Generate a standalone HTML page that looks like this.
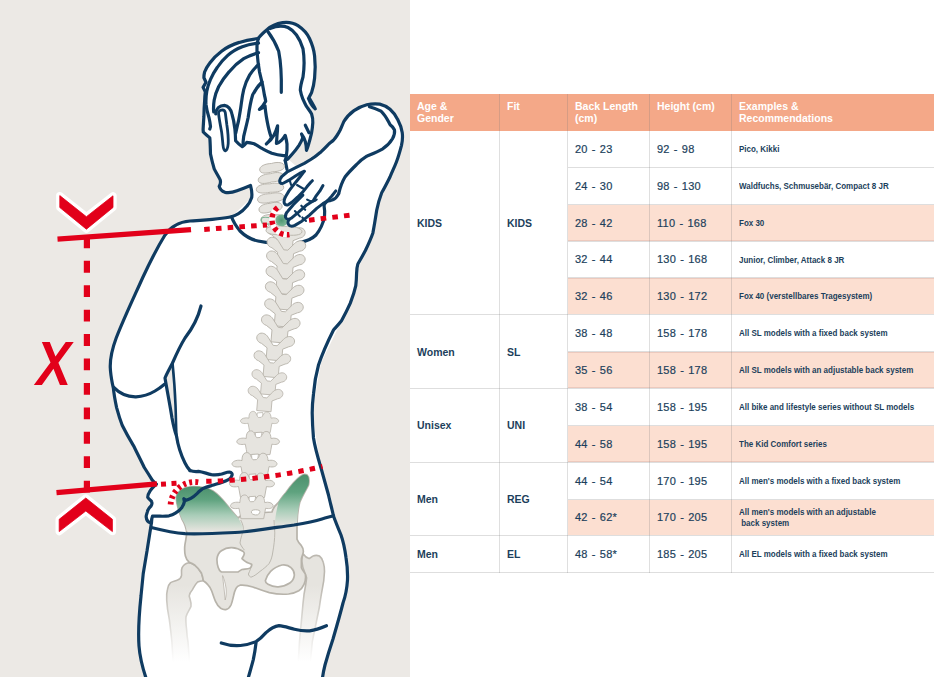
<!DOCTYPE html>
<html><head><meta charset="utf-8"><title>Back length size chart</title>
<style>
html,body{margin:0;padding:0;background:#fff;}
body{width:936px;height:677px;position:relative;overflow:hidden;font-family:"Liberation Sans",sans-serif;}
.panel{position:absolute;left:0;top:0;width:410px;height:677px;background:#ece9e5;}
svg.fig{position:absolute;left:0;top:0;}
.tbl div{position:absolute;box-sizing:border-box;}
.hd{background:#f4a888;}
.ht{color:#fff;font-weight:bold;font-size:10.5px;line-height:12px;white-space:nowrap;}
.hl{background:#fcdfd1;box-shadow:inset 0 1px 0 #ecc9bd, inset 0 -1px 0 #ecc9bd;}
.c,.g,.e{display:flex;align-items:center;color:#1c3f5c;white-space:nowrap;}
.c{font-size:11px;letter-spacing:0.25px;word-spacing:0.8px;-webkit-text-stroke:0.2px #1c3f5c;}
.g{font-size:10.5px;font-weight:bold;}
.e{font-size:8.9px;font-weight:bold;line-height:11.1px;padding-top:1.2px;}
.e span{display:inline-block;transform:scaleX(0.9);transform-origin:0 50%;}
.hlne{height:1px;background:#dedede;}
.vl{width:1px;background:rgba(120,120,120,0.24);}
</style></head><body>
<div class="panel"></div>
<svg class="fig" width="936" height="677" viewBox="0 0 936 677">
<defs>
<linearGradient id="gIl" gradientUnits="userSpaceOnUse" x1="0" y1="486" x2="0" y2="531"><stop offset="0" stop-color="#4b8f6c"/><stop offset="0.3" stop-color="#5fa37f"/><stop offset="0.65" stop-color="#a9cdb8"/><stop offset="1" stop-color="#e6e4df"/></linearGradient>
<linearGradient id="gIr" gradientUnits="userSpaceOnUse" x1="0" y1="474" x2="0" y2="526"><stop offset="0" stop-color="#4b8f6c"/><stop offset="0.35" stop-color="#5fa37f"/><stop offset="0.7" stop-color="#a9cdb8"/><stop offset="1" stop-color="#e6e4df"/></linearGradient>
<linearGradient id="gFem" gradientUnits="userSpaceOnUse" x1="0" y1="585" x2="0" y2="662"><stop offset="0" stop-color="#e6e4df"/><stop offset="1" stop-color="#ffffff"/></linearGradient>
<linearGradient id="gFemS" gradientUnits="userSpaceOnUse" x1="0" y1="585" x2="0" y2="662"><stop offset="0" stop-color="#bcb8b0"/><stop offset="1" stop-color="#ffffff"/></linearGradient>
<radialGradient id="gC7"><stop offset="0" stop-color="#4f9672"/><stop offset="1" stop-color="#7db897"/></radialGradient>
<path id="vt" d="M-18,-8 C-21,-5 -19,0 -14,1 L-8,5 L-8,17 L8,17 L8,5 L14,2 C19,1 21,-4 18,-7 C15,-10 10,-8 8,-5 L2,2 L-2,2 L-8,-6 C-10,-9 -15,-11 -18,-8 Z"/>
<path id="vl" d="M-4,-1 C-5,-5 -8,-6 -11,-4 C-13,-2 -13,1 -13,3 C-17,2 -22,3 -23,6 C-23,9 -19,10 -14,9 C-13,13 -13,16 -12,20 L12,20 C13,16 13,13 14,9 C18,10 22,9 22,6 C21,3 17,2 13,3 C13,0 12,-3 10,-4 C7,-5 5,-4 4,-1 C3,2 -3,2 -4,-1 Z"/>
<path id="vn" d="M-3.2,-3.2 L3.4,-3.6 C3.4,-1 3,1 1.5,2 L-2,2.2 C-3.5,1 -3.6,-1.5 -3.2,-3.2 Z"/>
</defs>
<path d="M231.5,216.7 C222,219 205,220 190,221 C178,222 170,227.5 165,235 C157,248 150,262 143,277 C134,297 124,318 116.2,338 C112.5,348 110,361 110.3,368 C110.5,373 111.5,379 112.3,383.2 C112.6,384.7 112.9,386 113.3,387.6 C114,394.5 115.2,401 116.6,407.6 C118.2,413.5 120,419.5 122.2,425.3 C125.5,432 129.3,438.7 133.3,445.3 C137,452.7 140.7,460 144.3,467.5 C147,471.7 149.6,475.8 152.1,479.9 C153.5,481.4 154.9,482.8 156.2,484.2 C153,487 151,489 150,491.2 C148.5,493.5 147.5,495.5 147.8,497.5 C149,499.5 151,500 151.5,501.5 C152.3,503 152,504.5 151,506 C149,508 147.5,510 147.3,512 C147,514 146,515 146.2,517 C146.5,520 148,522 150,522.6 L151.5,522.5 C150,532 148.5,541 147,551 C144,566 142,581 141,596 C139,615 138,631 139,646 C140,659 143,669 146,678  L322.5,678 L340,600 L347,570 L341,535 L321,468 L312,413 L321,363 L341.5,320.8 L356.6,273 L372.9,232.9 L330,200 L251.5,186 L251.7,197.5 Z" fill="#fff"/>
<path d="M312.8,158.3 C316,156 318.5,153.8 321.4,151.4 C324,149 326,146.8 328.2,144.6 C330,143 331.7,141.8 333.4,140.3 C335,138.5 336,137 337,135.5 C338.3,133.5 339.3,131.8 340.2,130 C341.5,127 342.5,124.5 343.7,121.8 C346.5,117 350,113.5 354,110.6 C358,108 362,106 366.8,104.8 C371,103.8 375.5,103.6 379.7,104.1 C383.5,105 387,106.8 390,109.3 C393,112 396,115.5 397.7,119.6 C400,124 401.5,128 402.2,132.4 C402.8,137 402.5,141 401.5,145.3 C400,151 398.5,156.5 396.4,162 C394.5,167 392,172 390,177 C387,183 384.5,188 381.7,192.7 C379.5,198.5 377.8,204.5 376.7,210.3 C375.5,218 374.3,225.5 372.9,232.9 C370.8,239 368,245 365.4,250.5 C363,255 360.3,259.8 357.8,264.3 C357,267 356.7,270 356.6,273 C356.5,277 356.3,281.5 355.8,285.6 C354.5,291.5 352.5,297.5 350.3,303.2 C347.5,309.5 344.5,315.3 341.5,320.8 C339,324 336,327.2 333.5,330 C328,341 322.5,353 318.5,365 C316,374 314.3,384 313.5,394 C312.6,401 312.2,407 312.2,413 C312.3,422 312.8,430 313.5,438 C315,448 318,458 321,468 C323.5,477 326,486 328.5,495 C330,502 332,509 333.5,516 C336,523 338.5,529 341,535 C343.5,542 345,550 346,557.5 C347.2,565 347.8,572 347.5,580 C347,588 345.5,596 343,603 C340,615 336.5,627 333,639 C330,648 327.5,656 325,665 C324,669 323,673 322.5,678 L146,678 L150,500 L200,300 L258,215 L262,190 Z" fill="#fff"/>
<path d="M258.2,38.5 C251,39.3 245,40.5 239.3,42.4 C232.5,44.5 226.5,47.5 221.6,51.2 C216.8,54.8 213,58.5 209.8,63 C207.5,66 205.8,69 204.6,72 C204.1,74 203.9,76 203.9,77.8 L206,82.3 L203.1,87.4 L205.3,91.9 C204.9,95 204.7,98 204.6,101.5 C204.2,106.5 204,111 203.9,116.2 C203.6,121 203.3,125 203.1,129.5 L203.3,132 C205,134 208,136 209.8,137.8 C210.3,143 210.3,149 210.5,154 C211.5,159 212.8,164 214.2,168.9 C216,172.5 218.3,176 220.1,179.6 C220.9,182 220.4,184.3 219.2,186.3 C220,189.3 222.3,191.3 225,192.3 C229,193 233,192.3 237,190.8 C241.5,189 246,187.3 250.5,185.5 C251.6,189.5 252.2,194 251.7,197.5 C250.5,201 249,204 247,206 C244.5,209 241.5,212 238.5,213.7 C236,215.2 234,216 231.5,216.7  L290,200 L296,166 L287.3,158.5 L300,140 L258,60 Z" fill="#fff"/>
<path d="M258.2,38.5 C260,36 263,33 267.2,29.5 C271,26 277,23.5 282.6,22.6 C289,21.8 294,23 298,25.6 C303,29 307,33 309.5,38.5 C312.5,45 314,50 314.6,56 C315.5,64 315.3,71 314.6,78 C314,84 312.8,89 311.6,92.5 L309,97.6 C311,101 313.5,105 315.3,108.9 C312.5,107 310.3,103 308.4,98.5  L308,120 L262,110 L258.2,38.5 Z" fill="#fff"/>
<path d="M270,28.5 C276,26 283,25.5 288,27.5 C295,31 300,39 303,48.7 C304.5,58 304.3,68 303,77 C301.5,82 300.5,86 300.3,90 C300.8,93 301.6,96 302.8,98.8 C304,101.5 305.2,104 306.5,106.4 C308.3,109 310.2,111.3 311.6,113.9 C312.6,117 313,120 312.8,122.7 C312.6,126 312.2,129.5 311.6,132.7 C310.8,136 310,139.5 309,142.8 C308.3,145.5 307.5,148 306.5,150.3 C306.3,147 306,144 305.3,141.5 C304.3,138.5 303,136 301.5,134 C302,135.3 302.5,136.5 302.8,137.8 C301.8,140.5 300.5,143 299,145.3 C297,148.2 295,151 292.7,153.5 C291,155.5 289.3,157.4 287.7,159.1 L285.2,160.4  L280,100 Z" fill="#fff"/>
<path d="M258.2,38.5 C257,43 256.6,47 257,51.3 C257.5,58 258.3,65 259.5,71.8 C260.5,76 261.5,80.5 262.6,85 C263.3,88.5 263.9,91.8 264.4,95 C265,97.2 265.4,99.3 265.7,101.3 C264,104.5 261.8,107.2 259.4,109.5 C261.5,108.8 263.5,107.5 265,105.7 C265.3,109.3 265.7,113 266.3,116.4 C267,120.5 267.8,125 268.8,129 C269.5,132 270.4,135 271.4,137.8 C270,140.3 268.3,142.3 266.3,144 C269.5,141.8 272,138.8 273.9,135.3 C275.5,132.3 276.7,129 277.6,125.8 C277.6,129 277.4,132.2 277,135.3 C276.9,138 276.7,140.8 276.4,143.4 C278.3,142.8 280,141.7 281.4,140.3 C283,138.8 284.2,137.2 285.2,135.3 C286,138.2 286.7,141 287,144 C287.2,148 287,151.8 286.4,155.4 C286.2,157.2 285.8,158.8 285.2,160.4 L287,169.5 L296,100 L290,40 Z" fill="#fff"/>
<path d="M231.5,216.7 L238.5,213.7 L247,206 L251.7,197.5 L251.5,186 L262,150 L286.5,158 L287.5,170 L325,205 L316,235 L290,244 L258,241 Z" fill="#fff"/>
<path d="M165,378 C167,390 170,405 172,418 C173.5,426 175,432 176.5,436 C176,428 176,418 175.5,405 C175,392 174,378 172.5,363 C170,368 167,373 165,378 Z" fill="#ece9e5"/>
<g fill="none" stroke="#0f3b61" stroke-width="3.2" stroke-linecap="round" stroke-linejoin="round">
<path d="M258.2,38.5 C251,39.3 245,40.5 239.3,42.4 C232.5,44.5 226.5,47.5 221.6,51.2 C216.8,54.8 213,58.5 209.8,63 C207.5,66 205.8,69 204.6,72 C204.1,74 203.9,76 203.9,77.8 L206,82.3 L203.1,87.4 L205.3,91.9 C204.9,95 204.7,98 204.6,101.5 C204.2,106.5 204,111 203.9,116.2 C203.6,121 203.3,125 203.1,129.5 L203.3,132 C205,134 208,136 209.8,137.8 C210.3,143 210.3,149 210.5,154 C211.5,159 212.8,164 214.2,168.9 C216,172.5 218.3,176 220.1,179.6 C220.9,182 220.4,184.3 219.2,186.3 C220,189.3 222.3,191.3 225,192.3 C229,193 233,192.3 237,190.8 C241.5,189 246,187.3 250.5,185.5 C251.6,189.5 252.2,194 251.7,197.5 C250.5,201 249,204 247,206 C244.5,209 241.5,212 238.5,213.7 C236,215.2 234,216 231.5,216.7 C222,219 205,220 190,221 C178,222 170,227.5 165,235 C157,248 150,262 143,277 C134,297 124,318 116.2,338 C112.5,348 110,361 110.3,368 C110.5,373 111.5,379 112.3,383.2 C112.6,384.7 112.9,386 113.3,387.6 C114,394.5 115.2,401 116.6,407.6 C118.2,413.5 120,419.5 122.2,425.3 C125.5,432 129.3,438.7 133.3,445.3 C137,452.7 140.7,460 144.3,467.5 C147,471.7 149.6,475.8 152.1,479.9 C153.5,481.4 154.9,482.8 156.2,484.2 "/>
<path d="M312.8,158.3 C316,156 318.5,153.8 321.4,151.4 C324,149 326,146.8 328.2,144.6 C330,143 331.7,141.8 333.4,140.3 C335,138.5 336,137 337,135.5 C338.3,133.5 339.3,131.8 340.2,130 C341.5,127 342.5,124.5 343.7,121.8 C346.5,117 350,113.5 354,110.6 C358,108 362,106 366.8,104.8 C371,103.8 375.5,103.6 379.7,104.1 C383.5,105 387,106.8 390,109.3 C393,112 396,115.5 397.7,119.6 C400,124 401.5,128 402.2,132.4 C402.8,137 402.5,141 401.5,145.3 C400,151 398.5,156.5 396.4,162 C394.5,167 392,172 390,177 C387,183 384.5,188 381.7,192.7 C379.5,198.5 377.8,204.5 376.7,210.3 C375.5,218 374.3,225.5 372.9,232.9 C370.8,239 368,245 365.4,250.5 C363,255 360.3,259.8 357.8,264.3 C357,267 356.7,270 356.6,273 C356.5,277 356.3,281.5 355.8,285.6 C354.5,291.5 352.5,297.5 350.3,303.2 C347.5,309.5 344.5,315.3 341.5,320.8 C339,324 336,327.2 333.5,330 C328,341 322.5,353 318.5,365 C316,374 314.3,384 313.5,394 C312.6,401 312.2,407 312.2,413 C312.3,422 312.8,430 313.5,438 C315,448 318,458 321,468 C323.5,477 326,486 328.5,495 C330,502 332,509 333.5,516 C336,523 338.5,529 341,535 C343.5,542 345,550 346,557.5 C347.2,565 347.8,572 347.5,580 C347,588 345.5,596 343,603 C340,615 336.5,627 333,639 C330,648 327.5,656 325,665 C324,669 323,673 322.5,678"/>
<path d="M258.2,38.5 C260,36 263,33 267.2,29.5 C271,26 277,23.5 282.6,22.6 C289,21.8 294,23 298,25.6 C303,29 307,33 309.5,38.5 C312.5,45 314,50 314.6,56 C315.5,64 315.3,71 314.6,78 C314,84 312.8,89 311.6,92.5 L309,97.6 C311,101 313.5,105 315.3,108.9 C312.5,107 310.3,103 308.4,98.5 "/>
<path d="M258.2,38.5 C257,43 256.6,47 257,51.3 C257.5,58 258.3,65 259.5,71.8 C260.5,76 261.5,80.5 262.6,85 C263.3,88.5 263.9,91.8 264.4,95 C265,97.2 265.4,99.3 265.7,101.3 C264,104.5 261.8,107.2 259.4,109.5 C261.5,108.8 263.5,107.5 265,105.7 C265.3,109.3 265.7,113 266.3,116.4 C267,120.5 267.8,125 268.8,129 C269.5,132 270.4,135 271.4,137.8 C270,140.3 268.3,142.3 266.3,144 C269.5,141.8 272,138.8 273.9,135.3 C275.5,132.3 276.7,129 277.6,125.8 C277.6,129 277.4,132.2 277,135.3 C276.9,138 276.7,140.8 276.4,143.4 C278.3,142.8 280,141.7 281.4,140.3 C283,138.8 284.2,137.2 285.2,135.3 C286,138.2 286.7,141 287,144 C287.2,148 287,151.8 286.4,155.4 C286.2,157.2 285.8,158.8 285.2,160.4 L287,169.5"/>
<path d="M267.5,31 C272,37 276,44 278.7,51.3 C281,63 281.6,78 281.3,92.3"/>
<path d="M270,28.5 C276,26 283,25.5 288,27.5 C295,31 300,39 303,48.7 C304.5,58 304.3,68 303,77 C301.5,82 300.5,86 300.3,90 C300.8,93 301.6,96 302.8,98.8 C304,101.5 305.2,104 306.5,106.4 C308.3,109 310.2,111.3 311.6,113.9 C312.6,117 313,120 312.8,122.7 C312.6,126 312.2,129.5 311.6,132.7 C310.8,136 310,139.5 309,142.8 C308.3,145.5 307.5,148 306.5,150.3 C306.3,147 306,144 305.3,141.5 C304.3,138.5 303,136 301.5,134 C302,135.3 302.5,136.5 302.8,137.8 C301.8,140.5 300.5,143 299,145.3 C297,148.2 295,151 292.7,153.5 C291,155.5 289.3,157.4 287.7,159.1 L285.2,160.4 "/>
<path d="M305.3,125.2 L309,132.7"/>
<path d="M258.5,43.1 C252.5,43.8 247,45 242.3,46.8 C236.5,49 231.5,52 227.5,55.7 C223.5,59.3 220,63.2 217.2,67.5 C214.5,71.3 212.3,75.2 210.5,79.3 C208.8,83.2 207.6,87 206.8,91.1 C206,95.5 205.8,100 206,104.4 C206.5,109 207.7,113.5 209,117.7 C209.7,120.8 210.2,123.7 210.5,126.6 L209.8,129"/>
<path d="M258.5,52.7 C253,54.3 248,56.3 243.7,58.6 C238,62.3 233.2,66.8 229,71.9 C225,76.5 221.5,81.5 218.6,86.7 C216.5,91 215,95.5 214.2,100 C213.7,103 213.5,106 213.5,108.9 L213.7,112"/>
<path d="M258.5,64.5 C255,67.7 252,71.2 249.7,74.9 C247,79.5 245,84.5 243.7,89.6 C242.5,94.5 241.8,99.5 241.2,104.4 C240.5,110 239.5,115.5 238.5,121 C237.5,125 236.5,129 235.8,133"/>
<path d="M262,82 C258,86 254.8,90.5 252.6,95 C250.5,102 249.2,110 248.2,117.2 C246.8,124 245,130.5 243.7,136.4 C243.2,140 243,143 243,145.5"/>
<path d="M222.3,109.8 C219.5,110 218.2,112 218.6,114.2 C219.3,120 220.5,126 221.6,131.9 C222.2,136.5 222.6,141 223,145.2 C223.3,148.5 224,150.5 225.3,150.8 C227,150.3 227.9,147.5 228.2,143.7 C228.5,137 227.8,131 226.8,124.5 C226.3,120.5 225.8,116.5 225.3,112.7 C225,110.8 223.8,109.8 222.3,109.8 Z" stroke-width="2.8"/>
<path d="M215.7,114 C216,108.5 219.5,105.3 224.5,105.3 C229,105.8 231,110 232,114.2 C233.5,119 234.3,124 234.9,129 C235.3,133 235.5,137 235.6,140.8 C237.5,143 239.8,145 242.3,146.7 C244,145.5 245.5,144 246.7,142.3 C249,142.5 251.6,143 254.1,143.7 C256.8,145 259.2,146.6 261.5,148.2 C265,150 268.3,151.8 271.8,153.3 C275.5,154.5 279.5,155.3 283.6,155.6 L285.5,155.6"/>
<path d="M231.5,216.7 C233,221 236,226 240,231 C245,236 251,239.5 258,241 C264,242.5 270,243 278,242.8"/>
<path d="M299,242.5 C308,241 313,238 316,235 C320,230 323,224 324.5,217 C325,212 324.5,208 324,205.3"/>
<path d="M113.5,387.2 C119,393 127,397 136,396.8 C144,396.5 150,394 155,391 C159,388.7 162,386.3 164.5,384.2"/>
<path d="M201,306 C198,318 192,329 185,338 C180,346 176,355 172.5,363 C170,368 167,373 165,378 C167,390 170,405 172,418 C173.5,426 175,432 176.5,436 C178,446 181,455 185,463 C187,467 188.5,469 190,470.5"/>
<path d="M172.5,363 C174,378 175,392 175.5,405 C176,418 176,428 176.5,436" stroke-width="2.6"/>
<path d="M369.4,106.7 C373.5,107.8 377.5,109.2 381,111.2 C384,114 386.5,118 388.7,122.1 L390,124.6 C392,126 393.5,128 394.5,130 C395,133 394,136 392.5,138.8 C390,143 386.5,146.5 382.3,149.1 C377.5,151.8 372,154 366.8,156.2 C363,158.5 359.5,161.5 356.6,164.5 C352.5,168.5 348.5,172.5 345,177 C342,182 340,188 338.7,193.7"/>
</g>
<g fill="#e6e4df" stroke="#b7b3aa" stroke-width="0.9" stroke-linejoin="round">
<path d="M188.6,562.7 C185,563.5 183,565.5 182,567.9 C181,570.5 181.8,573 181.5,575.6 C181,578 179.5,579.3 177.6,580 C175,581 172.5,581.5 170.6,582.6 C168.5,584.5 167.7,587 167.4,589.7 C166.5,593 166.5,596.5 166.7,600 C167,606.5 168,613 169.3,619.3 C170.3,627 171.2,634.5 171.9,642 L174,676 L190.5,676 L188,642 C187.3,638 186.8,634 186.6,629.5 C186,625 185.6,620.5 186,616.7 C187,613 189.5,610 191,606.4 C191.8,603 190,599.5 189.2,596 C189.5,593.5 190.8,591.5 192.4,589.7 C194,587 195.5,584 197.6,582 C199.5,581 201.2,580.8 203.3,580.7 C203,578 202.3,575.5 201.4,573 C199.8,570 197.5,567.3 195,565.3 C193,563.7 190.8,562.8 188.6,562.7 Z" fill="url(#gFem)" stroke="url(#gFemS)" stroke-width="1.6"/>
<path d="M303.3,554 C305,556.5 307,558 309,558.6 C310.5,558.3 311.8,557 313,556 C315,555.3 317.5,555.3 319.4,556 C321.5,557.5 322.7,560 323.3,562.4 C324.2,565.5 324.5,568.5 324.5,571.4 C324.3,578 323.3,584.5 322,590.7 C321,596 320.2,601.5 319.4,607 L312.3,641.6 L309,676 L297.5,676 L299.5,641.6 L302.7,607 C303,603 303.6,598.5 304,594.5 C305,589 306,583.5 306.6,577.8 L305.3,574 C303.5,570 302,565 301.8,561 C301.8,558.5 302.3,556 303.3,554 Z" fill="url(#gFem)" stroke="url(#gFemS)" stroke-width="1.6"/>
<path d="M176.3,497 C177.5,490 185,486.6 193,486.5 C201,486.4 208,488 213,491 C219,495 223,500 227,505 C231,510 235,515 238,518 L243,514 L272,512 C273,508 275.5,505 278.5,502.5 C281,498.5 283.5,495 286,492.5 C290.5,486 295.5,480 301,476 C303,474.3 305.5,474 307,475 C309.3,477 309.3,481 308.5,485 C305.5,491 302,496.5 299.7,502.5 C298,509 297.2,516 297,523.7 L297,539.3 C298,542 299.8,544 301.4,545.7 C302.8,547.5 303.5,549.8 303.3,552 C303,554.3 301.8,556.5 301.4,558.6 L301.4,567.6 C302.3,570 304,572 305.3,574 C306,578 305.3,581.5 304,584.3 C302.8,587 301,589.3 298.8,590.7 C295.5,592.6 292,593.6 288.6,594 C282,594.6 275.5,594 269.3,592.6 C263.5,591 258,589 252.8,587 C248.5,585.6 244,584.8 240,585.2 C238,585.7 236.8,586.8 236,588.4 C234.8,590.8 234,593.3 233.5,596 C232.8,599 232.2,602.2 231,605 C229.8,607.5 228,609.2 225.8,609.6 C224,609.8 222.2,609.3 220.7,608.3 C218.3,606.5 216.7,604 215.5,601.3 C214,598 213,594.3 211.7,591 C210.7,588.5 209.5,586.3 207.8,584.6 C206.5,583 205,581.7 203.3,580.7 C203,578 202.3,575.5 201.4,573 C199.8,570 197.5,567.3 195,565.3 C193.2,564 191.2,563 189.3,562.4 C187.3,560.8 186,558.5 185.4,556 C184.6,552.7 184.5,549 184.8,545.7 C185.3,541.5 186.5,537.3 186.7,532.9 C186.5,528.5 185,524 181.9,519 C179,512 176,504 176.3,497 Z M217,558.6 C217.5,555 219,552.5 221.4,550.8 C224.5,548.5 228,547.5 231.7,547.6 C236,547.8 240,549.3 243.3,551.5 C244.3,552.5 244.5,553.7 244,554.7 C243.5,556.2 242.5,557.5 242,558.6 C243.5,560.2 245.3,561.5 247,562.4 C248.5,563 250.3,563.5 251.6,564.3 C252,566 251,567.5 249.7,568.2 C247.3,569 244.5,569 242,569.5 C240.5,570.2 239.3,571.2 238,572 L221.4,572 C219.8,571 218.7,569.4 218.2,567.6 C217.3,564.7 216.8,561.5 217,558.6 Z M265.4,580.4 C266.5,576.8 268.3,573.8 270.6,571.4 C273.8,568.3 277.8,566 282,565 C285.5,564.5 288.8,565.5 291,567.6 C293.2,569.6 294.5,572.3 294.3,575.3 C294,578.5 292.3,581.2 289.8,583 C286.5,585.3 282.5,586.5 278.3,586.8 C274.5,587 271,586 268,584.3 C266.5,583.5 265.3,582 265.4,580.4 Z" fill-rule="evenodd" stroke-width="1.7"/>
<path d="M240.7,520 C242,522.5 243,525 243.3,527.7 C243,533 240.5,538 240,543 C241,546 243,548.3 244.5,550.2" fill="none"/>
<path d="M251.6,564.3 C251.3,567.7 249.7,571 248.4,574 C248.7,575.7 249.8,576.8 251,577.2 C254.5,576 257.3,573.7 260,571.4 C263.3,569 266.5,566.5 269,563.7 C271.3,560 272.3,556 272.8,552 C274,545.5 274.7,539 274.8,532.9 L274,520" fill="none"/>
<path d="M222.6,575.6 C223,580 223.5,584 224,588 C224.3,592 224.7,596 225.2,600 C226.3,596 226.5,592 226,588 C225.5,584 224.3,579.5 222.6,575.6 Z" fill="#fff" stroke-width="0.8"/>
</g>
<path d="M176.3,497 C177.5,490 185,486.6 193,486.5 C201,486.4 208,488 213,491 C219,495 223,500 227,505 C231,510 235,515 238,518 C241,522 243,527 243.3,531 L186.6,531 C186.3,527 185,523.5 181.9,519 C179,512 176,504 176.3,497 Z" fill="url(#gIl)"/>
<path d="M274.7,526 C275,518 276.5,510 278.5,502.5 C281,498.5 283.5,495 286,492.5 C290.5,486 295.5,480 301,476 C303,474.3 305.5,474 307,475 C309.3,477 309.3,481 308.5,485 C305.5,491 302,496.5 299.7,502.5 C298,509 297.2,516 297,526 Z" fill="url(#gIr)"/>
<g fill="#e6e4df" stroke="#b7b3aa" stroke-width="0.9" stroke-linejoin="round">
<use href="#vt" transform="translate(285.5,235) rotate(5) scale(1.0)"/>
<use href="#vt" transform="translate(286,248) rotate(5) scale(1.0)"/>
<use href="#vt" transform="translate(285.5,261.7) rotate(5) scale(1.0)"/>
<use href="#vt" transform="translate(285,277) rotate(5) scale(1.0)"/>
<use href="#vt" transform="translate(284.3,292.5) rotate(5) scale(1.0)"/>
<use href="#vt" transform="translate(283.6,309.6) rotate(5) scale(1.0)"/>
<use href="#vt" transform="translate(280.4,325.6) rotate(5) scale(1.0)"/>
<use href="#vt" transform="translate(275.3,343.6) rotate(5) scale(0.98)"/>
<use href="#vt" transform="translate(272,361) rotate(5) scale(0.95)"/>
<use href="#vt" transform="translate(269,379.3) rotate(5) scale(0.9)"/>
<use href="#vt" transform="translate(265.2,395.9) rotate(5) scale(0.9)"/>
<use href="#vl" transform="translate(260,415.6) scale(0.85)"/>
<use href="#vl" transform="translate(258.6,435.6) scale(0.95)"/>
<use href="#vl" transform="translate(255,457.6) scale(1.0)"/>
<use href="#vl" transform="translate(252.5,477.5) scale(1.0)"/>
<use href="#vl" transform="translate(252.3,499.7) scale(0.95)"/>
<use href="#vn" transform="translate(260,415.6) scale(0.85)" fill="#fff"/>
<use href="#vn" transform="translate(258.6,435.6) scale(0.95)" fill="#fff"/>
<use href="#vn" transform="translate(255,457.6) scale(1.0)" fill="#fff"/>
<use href="#vn" transform="translate(252.5,477.5) scale(1.0)" fill="#fff"/>
<use href="#vn" transform="translate(252.3,499.7) scale(0.95)" fill="#fff"/>
<path d="M252,510.5 C254,509.5 257,509.5 259.5,510.5 C260.5,512 259.5,514 257.5,514.8 C255,515.3 252.5,514.5 251.5,513 C251.2,512 251.4,511 252,510.5 Z" fill="#fff"/>
<path transform="translate(284,230.5) rotate(4)" d="M-18.0,1 C-18.0,-3 -9.0,-4.75 0,-4.15 C9.0,-5.35 18.0,-3.75 18.0,0 C18.0,3.75 9.0,4.75 0,4.25 C-9.0,5.35 -18.0,4.75 -18.0,1 Z"/>
<path transform="translate(275,219.5) rotate(5)" d="M-14.0,1 C-14.0,-3 -7.0,-5.25 0,-4.65 C7.0,-5.85 14.0,-4.25 14.0,0 C14.0,4.25 7.0,5.25 0,4.75 C-7.0,5.85 -14.0,5.25 -14.0,1 Z"/>
<path transform="translate(270.5,207.5) rotate(-8)" d="M-11.75,1 C-11.75,-3 -5.875,-4.75 0,-4.15 C5.875,-5.35 11.75,-3.75 11.75,0 C11.75,3.75 5.875,4.75 0,4.25 C-5.875,5.35 -11.75,4.75 -11.75,1 Z"/>
<path transform="translate(270.7,197.8) rotate(-5)" d="M-13.25,1 C-13.25,-3 -6.625,-4.75 0,-4.15 C6.625,-5.35 13.25,-3.75 13.25,0 C13.25,3.75 6.625,4.75 0,4.25 C-6.625,5.35 -13.25,4.75 -13.25,1 Z"/>
<path transform="translate(270,188) rotate(-3)" d="M-13.75,1 C-13.75,-3 -6.875,-4.75 0,-4.15 C6.875,-5.35 13.75,-3.75 13.75,0 C13.75,3.75 6.875,4.75 0,4.25 C-6.875,5.35 -13.75,4.75 -13.75,1 Z"/>
<path transform="translate(271,177.8) rotate(-8)" d="M-13.0,1 C-13.0,-3 -6.5,-4.75 0,-4.15 C6.5,-5.35 13.0,-3.75 13.0,0 C13.0,3.75 6.5,4.75 0,4.25 C-6.5,5.35 -13.0,4.75 -13.0,1 Z"/>
<path transform="translate(272,167.6) rotate(-7)" d="M-12.5,1 C-12.5,-3 -6.25,-4.75 0,-4.15 C6.25,-5.35 12.5,-3.75 12.5,0 C12.5,3.75 6.25,4.75 0,4.25 C-6.25,5.35 -12.5,4.75 -12.5,1 Z"/>
</g>
<path d="M262,217.8 C264.5,216.8 268,217.3 271.5,218.3 L272,223.3 C268.5,224.3 264.8,224.6 262.3,223.3 C261,221.6 261,219.3 262,217.8 Z" fill="none" stroke="#7fb596" stroke-width="1.1"/>
<path d="M276.3,217.2 C278,214.8 281.5,214 284,215 C286.5,215.6 287.6,218 287.3,220.5 C287.6,223 286.3,225.4 283.8,226 C281.3,226.6 278.3,226 276.8,224 C275.3,222 275.3,219.2 276.3,217.2 Z" fill="url(#gC7)"/>
<g fill="none" stroke="#0f3b61" stroke-width="3.2" stroke-linecap="round" stroke-linejoin="round">
<path d="M156.2,484.2 C153,487 151,489 150,491.2 C148.5,493.5 147.5,495.5 147.8,497.5 C149,499.5 151,500 151.5,501.5 C152.3,503 152,504.5 151,506 C149,508 147.5,510 147.3,512 C147,514 146,515 146.2,517 C146.5,520 148,522 150,522.6 L151.5,522.5 C150,532 148.5,541 147,551 C144,566 142,581 141,596 C139,615 138,631 139,646 C140,659 143,669 146,678 "/>
<path d="M190,470.5 C192.5,471.5 195.5,471.7 198.6,471.4 C203,472 207,473.7 211.4,474.6 C215,475 218.5,474.8 221.7,474 C224.5,473.2 227,472 229.4,472 C231.5,472.2 232.5,473.7 232,475.3 C231.5,477 230.5,478.2 229.4,479.1 C227,480.5 224.5,481.6 221.7,482.4 C218.3,483.5 214.8,484.5 211.4,485.6 C208.3,486.5 205.3,487.5 202.4,488.8 C200.5,490 198.8,491.5 197.3,493.3 C195.3,495.2 193.2,497 190.8,498.4 C189.2,499.3 187.5,500 185.7,500.3 L183.8,498.7 C184,499.7 184.3,500.7 184.4,501.6 C184,503.7 183,505.7 181.9,507.4 C180,509.8 177.8,511.7 175.4,513.2 C173.3,514.5 171.2,515.3 169,515.8 C166,516.3 163,516.3 160,516.2 C157.5,516.1 155,516 152.5,516.2 C151.8,518 151.5,520 151.5,522.5"/>
<path d="M151.3,527.5 C165,531 175,533 185,533.7 C200,534.3 220,533.3 235,532.5 C255,531 275,527.5 294,525 C305,523.3 316,521 322,519 C327,517.5 331,516.5 333.5,515.7"/>
<path d="M221.3,643 C228,645.3 234,646 240.5,645.5 C246,644.8 251.5,643.5 256,641.6 C260,639 263,636 266,632.6 C270,629 274,626.3 279,625.7 C284,626 289,628 294.4,629.3 C299.5,630.5 304.5,631.2 309.7,630.8 C315.5,630 321,628 326.4,625.7"/>
<path d="M256,643 C255.3,649 254.4,654.5 253.3,659.6 C251.8,665.5 250,671.5 248.2,678"/>
</g>
<path d="M335.8,190.9 L331.6,196.2 L327.3,201 L323,203.6 L316.7,208.4 L309.2,215.3 L301.8,221.2 L294.9,225.4 C292,226.7 289.5,226.2 288.3,224.2 C287.5,222 288.5,220 290,218.5 L300,209 L315,197 Z" fill="#fff"/><path d="M335.8,190.9 L331.6,196.2 L327.3,201 L323,203.6 L316.7,208.4 L309.2,215.3 L301.8,221.2 L294.9,225.4 C292,226.7 289.5,226.2 288.3,224.2 C287.5,222 288.5,220 290,218.5" fill="none" stroke="#0f3b61" stroke-width="3" stroke-linecap="round" stroke-linejoin="round"/>
<path d="M323,185.5 L319.9,190.9 L315.6,196.7 L313,201 L307.1,204.7 L298.6,212.1 L291.1,218.3 C288.5,219.9 286.3,219.2 285.5,217.2 C285,214.7 286.5,212.5 288,211 L293.3,204.7 L298.6,199.4 L302.9,195.1 Z" fill="#fff"/><path d="M323,185.5 L319.9,190.9 L315.6,196.7 L313,201 L307.1,204.7 L298.6,212.1 L291.1,218.3 C288.5,219.9 286.3,219.2 285.5,217.2 C285,214.7 286.5,212.5 288,211 L293.3,204.7 L298.6,199.4 L302.9,195.1" fill="none" stroke="#0f3b61" stroke-width="3" stroke-linecap="round" stroke-linejoin="round"/>
<path d="M304.4,171.2 L300.7,176 L296.5,181.3 L292.2,186.6 L289,190.9 L285.8,196.2 C284.3,199 283.7,201.5 284.3,203.2 C285.2,204.9 287,205.2 288.5,204.6 L292.2,202 L297.5,197.2 L302.9,191.9 L307.1,186.6 L310.8,182.3 L312.4,180.7 Z" fill="#fff"/><path d="M304.4,171.2 L300.7,176 L296.5,181.3 L292.2,186.6 L289,190.9 L285.8,196.2 C284.3,199 283.7,201.5 284.3,203.2 C285.2,204.9 287,205.2 288.5,204.6 L292.2,202 L297.5,197.2 L302.9,191.9 L307.1,186.6 L310.8,182.3 L312.4,180.7" fill="none" stroke="#0f3b61" stroke-width="3" stroke-linecap="round" stroke-linejoin="round"/>
<path d="M312.8,158.3 L304.3,163.4 L295.7,167.7 L287.1,172 L282,176.3 C280.2,178.5 279.3,180.5 279.8,182.2 C280.9,183.5 282.5,183.7 283.7,183 L289,180.2 L295.4,176 L300.7,172.8 L304.4,171.2 L330,165 Z" fill="#fff"/><path d="M312.8,158.3 L304.3,163.4 L295.7,167.7 L287.1,172 L282,176.3 C280.2,178.5 279.3,180.5 279.8,182.2 C280.9,183.5 282.5,183.7 283.7,183 L289,180.2 L295.4,176 L300.7,172.8 L304.4,171.2" fill="none" stroke="#0f3b61" stroke-width="3" stroke-linecap="round" stroke-linejoin="round"/>
<g fill="none" stroke="#0f3b61" stroke-width="3" stroke-linecap="round" stroke-linejoin="round">
<path d="M338.7,193.7 C337,197 335,199 332.3,200 C330.5,200.8 329,201.3 327.3,201"/>
<path d="M327.3,201 C326,202.5 325,203.7 324.1,204.7"/>
<path d="M289.6,179.9 L291.1,185 M297,185 L303.9,189 M307.1,199.6 C309,200.8 311,201.6 313,201.5 C314.5,201.2 315.8,200.5 316.7,199.6 M294.9,211 L299.9,216.4 M301.3,205.7 L305.2,209.8 M302.3,217.4 L306,221" stroke-width="2.1"/>
</g>
<g stroke="#e2001a" fill="none">
<line x1="57.5" y1="239.1" x2="191" y2="229.6" stroke-width="5.3"/>
<line x1="56.5" y1="492.7" x2="157" y2="483.9" stroke-width="5.3"/>
<line x1="86.9" y1="236.4" x2="86.9" y2="492.5" stroke-width="6.2" stroke-dasharray="11.8 12.63"/>
<line x1="204.2" y1="229.4" x2="267" y2="224.9" stroke-width="5" stroke-dasharray="5.6 6.15"/>
<line x1="309" y1="220.3" x2="351" y2="215" stroke-width="5" stroke-dasharray="5.6 6.15"/>
<path d="M277.6,207.6 A15.3,15.3 0 0 0 289.5,234.6" stroke-width="5.4" stroke="#fff"/>
<path d="M277.6,207.6 A15.3,15.3 0 0 0 289.5,234.6" stroke-width="5.4" stroke-dasharray="4 3.4"/>
<path d="M206.2,481.3 Q263.6,480.2 322.5,466.5" stroke-width="5" stroke-dasharray="5.4 6.2"/>
<path d="M161,484.2 L166,483.9 M171.5,483.5 L176.5,483.2" stroke-width="5"/>
<path d="M170.6,504.5 A24,24 0 0 1 200,482.6" stroke-width="5.8" stroke-dasharray="2.9 3.25"/>
</g>
<path d="M59.8,195.6 L86.4,216.7 L113,195.8 L113,207.5 L86.4,229.2 L59.8,207.5 Z" fill="#fff" stroke="#fff" stroke-width="7.4" stroke-linejoin="round"/>
<path d="M59.8,195.6 L86.4,216.7 L113,195.8 L113,207.5 L86.4,229.2 L59.8,207.5 Z" fill="#e2001a" stroke="#e2001a" stroke-width="0.8" stroke-linejoin="round"/>
<path d="M85.8,498 L112.4,519.3 L112.4,531.6 L85.8,511 L59.2,531.6 L59.2,519.3 Z" fill="#fff" stroke="#fff" stroke-width="7.4" stroke-linejoin="round"/>
<path d="M85.8,498 L112.4,519.3 L112.4,531.6 L85.8,511 L59.2,531.6 L59.2,519.3 Z" fill="#e2001a" stroke="#e2001a" stroke-width="0.8" stroke-linejoin="round"/>
<text id="xt" transform="translate(36.2,385.2) scale(0.83,1)" font-family="Liberation Sans, sans-serif" font-style="italic" font-weight="bold" font-size="63" fill="#e2001a">X</text>
</svg>
<div class="tbl">
<div class="hd" style="left:410px;top:93.5px;width:524px;height:37px"></div>
<div class="ht" style="left:417px;top:100.4px">Age &amp;<br>Gender</div>
<div class="ht" style="left:507px;top:100.4px">Fit</div>
<div class="ht" style="left:575px;top:100.4px">Back Length<br>(cm)</div>
<div class="ht" style="left:657px;top:100.4px">Height (cm)</div>
<div class="ht" style="left:739px;top:100.4px">Examples &amp;<br>Recommendations</div>
<div class="c" style="left:575px;top:130.50px;height:36.85px">20 - 23</div>
<div class="c" style="left:657px;top:130.50px;height:36.85px">92 - 98</div>
<div class="e" style="left:739px;top:130.50px;height:36.85px"><span>Pico, Kikki</span></div>
<div class="c" style="left:575px;top:167.35px;height:36.85px">24 - 30</div>
<div class="c" style="left:657px;top:167.35px;height:36.85px">98 - 130</div>
<div class="e" style="left:739px;top:167.35px;height:36.85px"><span>Waldfuchs, Schmusebär, Compact 8 JR</span></div>
<div class="hl" style="left:567.5px;top:204.20px;width:366.5px;height:36.85px"></div>
<div class="c" style="left:575px;top:204.20px;height:36.85px">28 - 42</div>
<div class="c" style="left:657px;top:204.20px;height:36.85px">110 - 168</div>
<div class="e" style="left:739px;top:204.20px;height:36.85px"><span>Fox 30</span></div>
<div class="c" style="left:575px;top:241.05px;height:36.85px">32 - 44</div>
<div class="c" style="left:657px;top:241.05px;height:36.85px">130 - 168</div>
<div class="e" style="left:739px;top:241.05px;height:36.85px"><span>Junior, Climber, Attack 8 JR</span></div>
<div class="hl" style="left:567.5px;top:277.90px;width:366.5px;height:36.85px"></div>
<div class="c" style="left:575px;top:277.90px;height:36.85px">32 - 46</div>
<div class="c" style="left:657px;top:277.90px;height:36.85px">130 - 172</div>
<div class="e" style="left:739px;top:277.90px;height:36.85px"><span>Fox 40 (verstellbares Tragesystem)</span></div>
<div class="c" style="left:575px;top:314.75px;height:36.85px">38 - 48</div>
<div class="c" style="left:657px;top:314.75px;height:36.85px">158 - 178</div>
<div class="e" style="left:739px;top:314.75px;height:36.85px"><span>All SL models with a fixed back system</span></div>
<div class="hl" style="left:567.5px;top:351.60px;width:366.5px;height:36.85px"></div>
<div class="c" style="left:575px;top:351.60px;height:36.85px">35 - 56</div>
<div class="c" style="left:657px;top:351.60px;height:36.85px">158 - 178</div>
<div class="e" style="left:739px;top:351.60px;height:36.85px"><span>All SL models with an adjustable back system</span></div>
<div class="c" style="left:575px;top:388.45px;height:36.85px">38 - 54</div>
<div class="c" style="left:657px;top:388.45px;height:36.85px">158 - 195</div>
<div class="e" style="left:739px;top:388.45px;height:36.85px"><span>All bike and lifestyle series without SL models</span></div>
<div class="hl" style="left:567.5px;top:425.30px;width:366.5px;height:36.85px"></div>
<div class="c" style="left:575px;top:425.30px;height:36.85px">44 - 58</div>
<div class="c" style="left:657px;top:425.30px;height:36.85px">158 - 195</div>
<div class="e" style="left:739px;top:425.30px;height:36.85px"><span>The Kid Comfort series</span></div>
<div class="c" style="left:575px;top:462.15px;height:36.85px">44 - 54</div>
<div class="c" style="left:657px;top:462.15px;height:36.85px">170 - 195</div>
<div class="e" style="left:739px;top:462.15px;height:36.85px"><span>All men's models with a fixed back system</span></div>
<div class="hl" style="left:567.5px;top:499.00px;width:366.5px;height:36.85px"></div>
<div class="c" style="left:575px;top:499.00px;height:36.85px">42 - 62*</div>
<div class="c" style="left:657px;top:499.00px;height:36.85px">170 - 205</div>
<div class="e" style="left:739px;top:499.00px;height:36.85px"><span>All men's models with an adjustable<br>&nbsp;back system</span></div>
<div class="c" style="left:575px;top:535.85px;height:36.85px">48 - 58*</div>
<div class="c" style="left:657px;top:535.85px;height:36.85px">185 - 205</div>
<div class="e" style="left:739px;top:535.85px;height:36.85px"><span>All EL models with a fixed back system</span></div>
<div class="g" style="left:417px;top:130.50px;height:184.25px">KIDS</div>
<div class="g" style="left:507px;top:130.50px;height:184.25px">KIDS</div>
<div class="g" style="left:417px;top:314.75px;height:73.70px">Women</div>
<div class="g" style="left:507px;top:314.75px;height:73.70px">SL</div>
<div class="g" style="left:417px;top:388.45px;height:73.70px">Unisex</div>
<div class="g" style="left:507px;top:388.45px;height:73.70px">UNI</div>
<div class="g" style="left:417px;top:462.15px;height:73.70px">Men</div>
<div class="g" style="left:507px;top:462.15px;height:73.70px">REG</div>
<div class="g" style="left:417px;top:535.85px;height:36.85px">Men</div>
<div class="g" style="left:507px;top:535.85px;height:36.85px">EL</div>
<div class="hlne" style="left:567.5px;top:166.85px;width:366.5px"></div>
<div class="hlne" style="left:567.5px;top:203.70px;width:366.5px"></div>
<div class="hlne" style="left:567.5px;top:240.55px;width:366.5px"></div>
<div class="hlne" style="left:567.5px;top:277.40px;width:366.5px"></div>
<div class="hlne" style="left:410px;top:314.25px;width:524px"></div>
<div class="hlne" style="left:567.5px;top:351.10px;width:366.5px"></div>
<div class="hlne" style="left:410px;top:387.95px;width:524px"></div>
<div class="hlne" style="left:567.5px;top:424.80px;width:366.5px"></div>
<div class="hlne" style="left:410px;top:461.65px;width:524px"></div>
<div class="hlne" style="left:567.5px;top:498.50px;width:366.5px"></div>
<div class="hlne" style="left:410px;top:535.35px;width:524px"></div>
<div class="hlne" style="left:410px;top:572.20px;width:524px"></div>
<div class="vl" style="left:499.0px;top:94px;height:478.70px"></div>
<div class="vl" style="left:567.0px;top:94px;height:478.70px"></div>
<div class="vl" style="left:649.0px;top:94px;height:478.70px"></div>
<div class="vl" style="left:731.0px;top:94px;height:478.70px"></div>
</div>
</body></html>
